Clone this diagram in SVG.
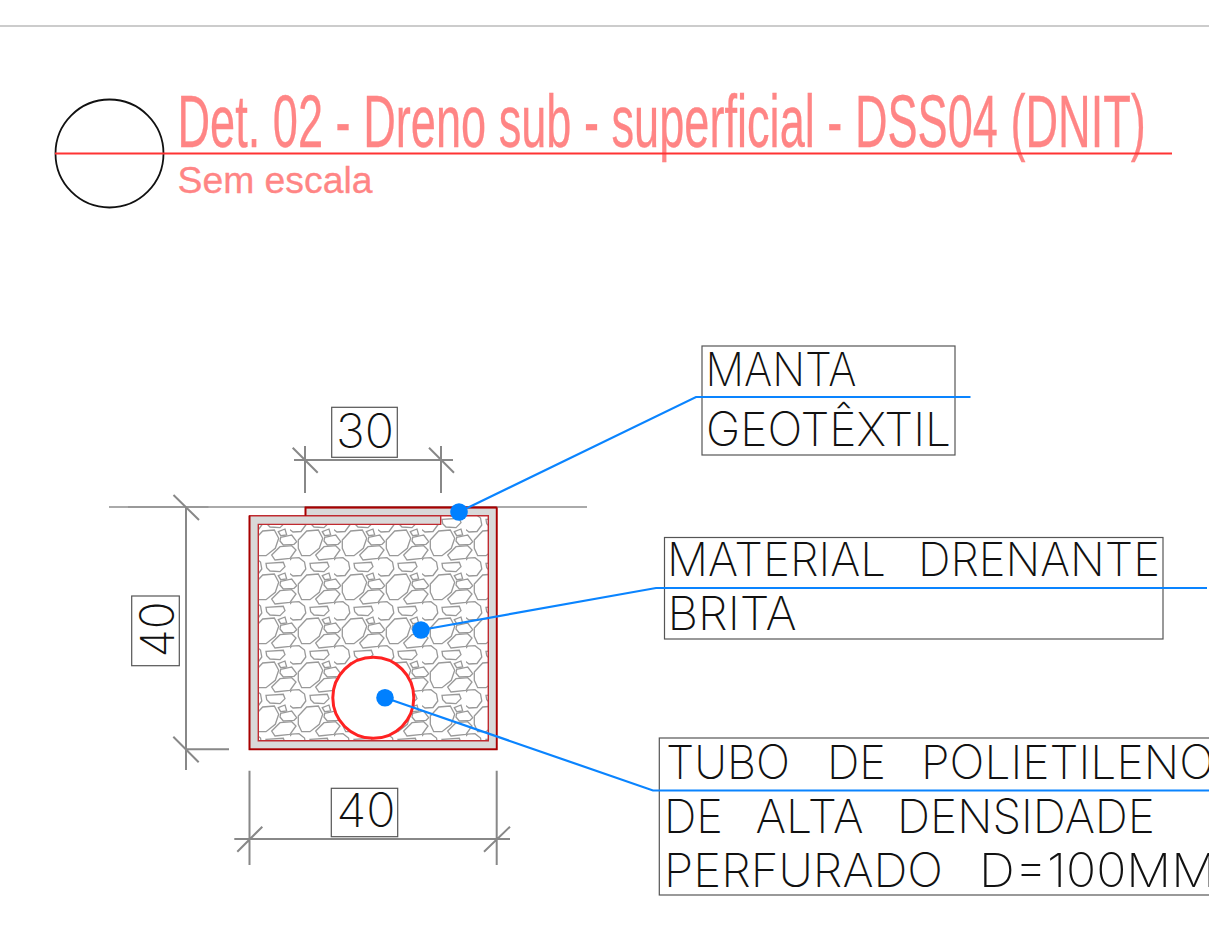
<svg xmlns="http://www.w3.org/2000/svg" width="1209" height="943" viewBox="0 0 1209 943">
<style>
.cad{font-family:"Inter","Lato","Liberation Sans",sans-serif;font-weight:200;font-size:47px;fill:#111}
.head{font-family:"Liberation Sans",Arial,sans-serif;fill:#ff8585;stroke:#ff8585;stroke-width:0.3}
.box{fill:#fff;stroke:#555;stroke-width:1.2}
.dim{stroke:#888;stroke-width:2;fill:none}
.lead{stroke:#0a84ff;stroke-width:2.2;fill:none}
.dot{fill:#0080ff}
</style>
<defs>
<g id="stones" fill="#fff" stroke="#999" stroke-width="1.3">
<polygon points="8.3,18 16.7,9 28.3,8 32.7,16.3 29.3,26.3 20,33.7 11.7,33.7 8.3,26.3"/>
<polygon points="25.7,33 34,24.7 45.7,23.7 50,28 44,36.3 29,38"/>
<polygon points="-3,41 1.5,36.2 9,35.7 14.5,40 15.8,47 11,53.5 3,54 -2.5,50"/>
<polygon points="20,41.3 37.3,40.3 39,44.7 34,49.7 24,49 20.7,45.7"/>
<polygon points="34.7,15.3 45.7,13 50.7,19.7 48,22.3 37.3,23 34,19"/>
<polygon points="32.3,9.7 39,7 40.7,13 34.7,13.7"/>
</g>
<pattern id="gravel" patternUnits="userSpaceOnUse" x="290" y="522" width="44" height="44">
<rect width="44" height="44" fill="#fff"/>
<use href="#stones"/><use href="#stones" x="-44"/><use href="#stones" y="-44"/><use href="#stones" x="-44" y="-44"/>
</pattern>
</defs>
<rect width="1209" height="943" fill="#fff"/>
<line x1="0" y1="26" x2="1209" y2="26" stroke="#bbb" stroke-width="1.5"/>

<g id="title">
<circle cx="109.500" cy="153.500" r="54" fill="none" stroke="#111" stroke-width="1.800"/>
<text class="head" transform="translate(177.500 146.500) scale(0.602 1)" font-size="75">Det. 02 - Dreno sub - superficial - DSS04 (DNIT)</text>
<text class="head" x="177.500" y="193" font-size="36" textLength="195" lengthAdjust="spacingAndGlyphs">Sem escala</text>
<line x1="55" y1="153.500" x2="1172" y2="153.500" stroke="#f33" stroke-width="2"/>
</g>

<g id="section">
<line x1="109" y1="507" x2="587" y2="507" stroke="#aaa" stroke-width="1.800"/>
<line x1="128" y1="507" x2="208.500" y2="507" stroke="#999" stroke-width="2.200"/>
<rect x="258.300" y="515.700" width="230" height="225" fill="url(#gravel)"/>
<path d="M305.500 507.500H496.700V749.300H249.500V515.700H440.700V524.400H258.300V740.700H488.300V515.700H305.500Z" fill="#d9d9d9" stroke="#c02a30" stroke-width="1.400"/>
<path d="M496.700 507.500V749.300H249.500V515.700M305.500 515.700V507.500H496.700" fill="none" stroke="#a80000" stroke-width="1.800"/>
<g id="pipe">
<circle cx="373.300" cy="697.800" r="40.500" fill="#fff" stroke="#f22" stroke-width="3"/>
</g>
</g>

<g id="dim-30">
<path class="dim" d="M294 460H453M305 446V493M441 446V493M292.700 447.700L317.700 472.700M429 447.700L454 472.700"/>
<rect class="box" x="331.700" y="407.300" width="65.600" height="50"/>
<text class="cad" x="336" y="448" textLength="58" lengthAdjust="spacingAndGlyphs">30</text>
</g>
<g id="dim-40-left">
<path class="dim" d="M186 507V770M186 749.300H229M173.500 495L199 520M173.300 736.700L198.700 762.300"/>
<rect class="box" x="131.700" y="596" width="47.600" height="69.700"/>
<text class="cad" transform="translate(174 657.500) rotate(-90)" textLength="56" lengthAdjust="spacingAndGlyphs">40</text>
</g>
<g id="dim-40-bottom">
<path class="dim" d="M234.300 839H510M249.500 770.700V865M496.700 770.700V865M237.300 851.700L262.300 826.700M484 851.700L510 826.700"/>
<rect class="box" x="331.300" y="788.300" width="66.400" height="48.400"/>
<text class="cad" x="336.500" y="827.300" textLength="59" lengthAdjust="spacingAndGlyphs">40</text>
</g>

<g id="label-manta">
<rect class="box" x="702" y="346" width="253" height="109"/>
<text class="cad" x="705.500" y="385.700" textLength="151" lengthAdjust="spacingAndGlyphs">MANTA</text>
<text class="cad" x="706" y="445.700" textLength="245" lengthAdjust="spacingAndGlyphs">GEOTÊXTIL</text>
</g>
<g id="label-material">
<rect class="box" x="664.500" y="537.500" width="498.500" height="101.500"/>
<text class="cad" y="576.300"><tspan x="667" textLength="219" lengthAdjust="spacingAndGlyphs">MATERIAL</tspan> <tspan x="918" textLength="242" lengthAdjust="spacingAndGlyphs">DRENANTE</tspan></text>
<text class="cad" x="667.500" y="630" textLength="129" lengthAdjust="spacingAndGlyphs">BRITA</text>
</g>
<g id="label-tubo">
<rect class="box" x="659.300" y="738" width="560" height="157"/>
<text class="cad" y="779.300"><tspan x="666" textLength="124" lengthAdjust="spacingAndGlyphs">TUBO</tspan> <tspan x="827" textLength="59" lengthAdjust="spacingAndGlyphs">DE</tspan> <tspan x="921" textLength="293" lengthAdjust="spacingAndGlyphs">POLIETILENO</tspan></text>
<text class="cad" y="832.700"><tspan x="664" textLength="59" lengthAdjust="spacingAndGlyphs">DE</tspan> <tspan x="755.500" textLength="108" lengthAdjust="spacingAndGlyphs">ALTA</tspan> <tspan x="897" textLength="258" lengthAdjust="spacingAndGlyphs">DENSIDADE</tspan></text>
<text class="cad" y="886.700"><tspan x="664" textLength="279" lengthAdjust="spacingAndGlyphs">PERFURADO</tspan> <tspan x="979" textLength="237" lengthAdjust="spacingAndGlyphs">D=100MM</tspan></text>
</g>

<g id="connectors">
<path class="lead" d="M459 512L696 397H970.500"/>
<path class="lead" d="M421 630L656 588H1207"/>
<path class="lead" d="M385 697.700L653 790.500H1209"/>
<circle class="dot" cx="459" cy="512" r="8.800"/>
<circle class="dot" cx="421" cy="630" r="8.800"/>
<circle class="dot" cx="385" cy="697.700" r="8.800"/>
</g>
</svg>
